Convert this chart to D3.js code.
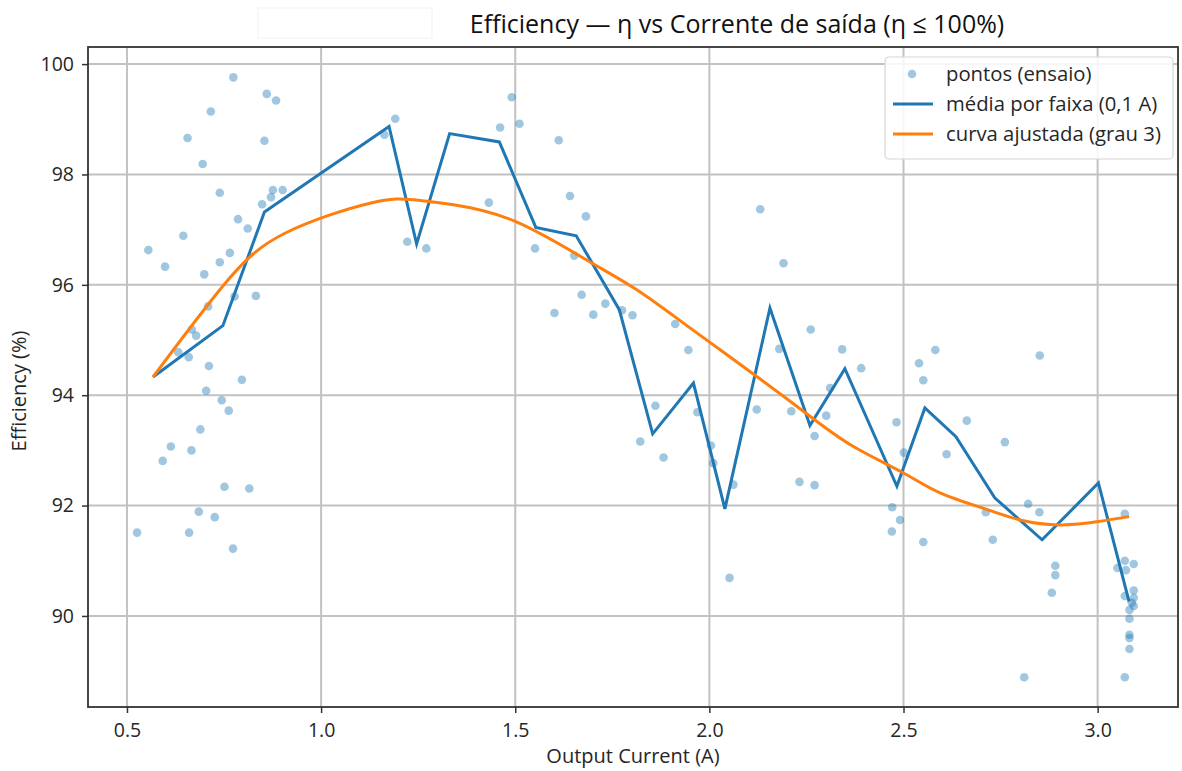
<!DOCTYPE html>
<html>
<head>
<meta charset="utf-8">
<script src="https://cdn.jsdelivr.net/npm/d3@7"></script>
<style>
  html, body { margin: 0; padding: 0; background: #ffffff; }
  svg { display: block; font-family: "Open Sans", "Noto Sans", sans-serif; }
</style>
</head>
<body>
<svg id="chart" width="1182" height="771"></svg>
<script>
// Test points: output current (A) and measured efficiency (%)
const pointCurrent = [
  0.774, 0.860, 0.884, 0.716, 0.656, 0.854, 0.695, 0.739, 0.876, 0.901,
  0.871, 0.848, 0.786, 0.811, 0.645, 0.555, 0.765, 0.739, 0.598, 0.699,
  0.832, 0.777, 0.709, 0.667, 0.678, 0.632, 0.659, 0.711, 0.796, 0.704,
  0.744, 0.762, 0.689, 0.613, 0.666, 0.592, 0.751, 0.815, 0.685, 0.726,
  0.526, 0.660, 0.773,
  1.163, 1.191, 1.491, 1.511, 1.461, 1.612, 1.641, 1.432, 1.682, 1.222,
  1.271, 1.551, 1.652, 1.671, 1.732, 1.701, 1.601, 1.775, 1.802, 1.912,
  1.946, 1.861, 1.822, 1.882,
  2.131, 2.191, 2.261, 2.180, 2.342, 2.391, 2.540, 2.551, 2.582, 1.969,
  2.122, 2.211, 2.311, 2.301, 2.271, 2.482, 2.501, 2.004, 2.010, 2.062,
  2.232, 2.271, 2.471, 2.491, 2.470, 2.551, 2.052,
  2.851, 2.663, 2.611, 2.761, 2.712, 2.821, 2.850, 2.730, 2.891, 2.891,
  2.882, 2.811, 3.070, 3.070, 3.093, 3.051, 3.073, 3.093, 3.070, 3.093,
  3.088, 3.093, 3.082, 3.082, 3.082, 3.082, 3.082, 3.070
];
const pointEfficiency = [
  99.76, 99.46, 99.34, 99.14, 98.66, 98.61, 98.19, 97.67, 97.72, 97.72,
  97.59, 97.46, 97.19, 97.02, 96.89, 96.63, 96.58, 96.41, 96.33, 96.19,
  95.80, 95.79, 95.61, 95.19, 95.08, 94.78, 94.69, 94.53, 94.28, 94.08,
  93.91, 93.72, 93.38, 93.07, 93.00, 92.81, 92.34, 92.31, 91.89, 91.79,
  91.51, 91.51, 91.22,
  98.72, 99.01, 99.40, 98.92, 98.85, 98.62, 97.61, 97.49, 97.24, 96.78,
  96.66, 96.66, 96.53, 95.82, 95.66, 95.46, 95.49, 95.54, 95.45, 95.29,
  94.82, 93.81, 93.16, 92.87,
  97.37, 96.39, 95.19, 94.84, 94.83, 94.49, 94.58, 94.27, 94.82, 93.69,
  93.74, 93.71, 94.13, 93.63, 93.26, 93.51, 92.96, 93.09, 92.77, 92.38,
  92.43, 92.37, 91.97, 91.74, 91.53, 91.34, 90.69,
  94.72, 93.54, 92.93, 93.15, 91.88, 92.03, 91.88, 91.38, 90.91, 90.74,
  90.42, 88.89, 91.85, 91.00, 90.94, 90.87, 90.83, 90.46, 90.36, 90.33,
  90.24, 90.18, 90.11, 89.95, 89.66, 89.60, 89.40, 88.89
];

// Mean efficiency per 0.1 A band
const binCurrent = [
  0.567, 0.747, 0.854, 1.175, 1.246, 1.331, 1.459, 1.553, 1.657, 1.768,
  1.854, 1.959, 2.040, 2.156, 2.259, 2.349, 2.483, 2.555, 2.635, 2.735,
  2.857, 3.002, 3.081
];
const binEfficiency = [
  94.33, 95.26, 97.32, 98.87, 96.74, 98.74, 98.59, 97.04, 96.89, 95.55,
  93.30, 94.22, 91.94, 95.58, 93.45, 94.48, 92.35, 93.77, 93.25, 92.14,
  91.38, 92.41, 90.26
];

// Fitted degree-3 curve, sampled along the current range
const fitCurrent = [
  0.567, 0.753, 0.908, 1.126, 1.238, 1.341, 1.500, 1.684, 1.813, 1.950,
  2.122, 2.259, 2.371, 2.500, 2.594, 2.714, 2.800, 2.903, 3.002, 3.081
];
const fitEfficiency = [
  94.33, 96.03, 96.94, 97.48, 97.54, 97.45, 97.15, 96.45, 95.91, 95.22,
  94.34, 93.62, 93.07, 92.59, 92.23, 91.93, 91.74, 91.65, 91.71, 91.80
];

const xTicks = [0.5, 1.0, 1.5, 2.0, 2.5, 3.0];
const yTicks = [90, 92, 94, 96, 98, 100];

const titleText = "Efficiency \u2014 \u03b7 vs Corrente de sa\u00edda (\u03b7 \u2264 100%)";
const xLabel = "Output Current (A)";
const yLabel = "Efficiency (%)";
const legendLabels = ["pontos (ensaio)", "m\u00e9dia por faixa (0,1 A)", "curva ajustada (grau 3)"];

const blue = "#1f77b4";
const orange = "#ff7f0e";
const textColor = "#262626";

const svg = d3.select("#chart");
const plotLeft = 88, plotRight = 1178, plotTop = 47, plotBottom = 707;

const x = d3.scaleLinear().domain([0.3996, 3.207]).range([plotLeft, plotRight]);
const y = d3.scaleLinear().domain([88.35, 100.31]).range([plotBottom, plotTop]);

// faint box left of the title
svg.append("rect")
  .attr("x", 258).attr("y", 8).attr("width", 174).attr("height", 30)
  .attr("fill", "#ffffff").attr("stroke", "#f1f1f1").attr("stroke-width", 1);

// title
svg.append("text")
  .attr("x", 737).attr("y", 33)
  .attr("text-anchor", "middle")
  .attr("font-size", 25)
  .attr("fill", "#111")
  .text(titleText);

// grid
const grid = svg.append("g");
grid.selectAll("line.gx").data(xTicks).enter().append("line")
  .attr("x1", d => x(d)).attr("x2", d => x(d))
  .attr("y1", plotTop).attr("y2", plotBottom)
  .attr("stroke", "#c2c2c2").attr("stroke-width", 2);
grid.selectAll("line.gy").data(yTicks).enter().append("line")
  .attr("x1", plotLeft).attr("x2", plotRight)
  .attr("y1", d => y(d)).attr("y2", d => y(d))
  .attr("stroke", "#c2c2c2").attr("stroke-width", 2);

// scatter points
const pts = pointCurrent.map((c, i) => ({ c, e: pointEfficiency[i] }));
svg.append("g").selectAll("circle").data(pts).enter().append("circle")
  .attr("cx", d => x(d.c)).attr("cy", d => y(d.e))
  .attr("r", 4.3)
  .attr("fill", blue).attr("fill-opacity", 0.42);

// band mean line
const bins = binCurrent.map((c, i) => ({ c, e: binEfficiency[i] }));
svg.append("path").datum(bins)
  .attr("d", d3.line().x(d => x(d.c)).y(d => y(d.e)))
  .attr("fill", "none").attr("stroke", blue).attr("stroke-width", 3)
  .attr("stroke-linejoin", "miter");

// fitted curve
const fit = fitCurrent.map((c, i) => ({ c, e: fitEfficiency[i] }));
svg.append("path").datum(fit)
  .attr("d", d3.line().x(d => x(d.c)).y(d => y(d.e)).curve(d3.curveNatural))
  .attr("fill", "none").attr("stroke", orange).attr("stroke-width", 3);

// axes
const xAxis = svg.append("g").attr("transform", `translate(0,${plotBottom})`)
  .call(d3.axisBottom(x).tickValues(xTicks).tickFormat(d3.format(".1f")).tickSize(6).tickPadding(10));
const yAxis = svg.append("g").attr("transform", `translate(${plotLeft},0)`)
  .call(d3.axisLeft(y).tickValues(yTicks).tickFormat(d3.format("d")).tickSize(6).tickPadding(8));
[xAxis, yAxis].forEach(a => {
  a.select(".domain").remove();
  a.selectAll(".tick line").attr("stroke", "#333").attr("stroke-width", 1.5);
  a.selectAll(".tick text").attr("font-size", 19.5).attr("fill", textColor)
    .attr("font-family", "Open Sans, Noto Sans, sans-serif");
});

// frame
svg.append("rect")
  .attr("x", plotLeft).attr("y", plotTop)
  .attr("width", plotRight - plotLeft).attr("height", plotBottom - plotTop)
  .attr("fill", "none").attr("stroke", "#333").attr("stroke-width", 1.8);

// axis labels
svg.append("text")
  .attr("x", (plotLeft + plotRight) / 2).attr("y", 763)
  .attr("text-anchor", "middle").attr("font-size", 20).attr("fill", textColor)
  .text(xLabel);
svg.append("text")
  .attr("transform", `translate(26,391) rotate(-90)`)
  .attr("text-anchor", "middle").attr("font-size", 20).attr("fill", textColor)
  .text(yLabel);

// legend
const lg = svg.append("g").attr("transform", "translate(885,57)");
lg.append("rect")
  .attr("x", 0).attr("y", 0).attr("width", 288).attr("height", 102).attr("rx", 4)
  .attr("fill", "#ffffff").attr("fill-opacity", 0.85)
  .attr("stroke", "#d6d6d6").attr("stroke-width", 1.2);
const rows = [17, 47, 77];
lg.append("circle").attr("cx", 27).attr("cy", rows[0]).attr("r", 4.3)
  .attr("fill", blue).attr("fill-opacity", 0.42);
lg.append("line").attr("x1", 8).attr("x2", 48).attr("y1", rows[1]).attr("y2", rows[1])
  .attr("stroke", blue).attr("stroke-width", 3);
lg.append("line").attr("x1", 8).attr("x2", 48).attr("y1", rows[2]).attr("y2", rows[2])
  .attr("stroke", orange).attr("stroke-width", 3);
lg.selectAll("text.lab").data(legendLabels).enter().append("text")
  .attr("x", 61).attr("y", (d, i) => rows[i] + 7)
  .attr("font-size", 20.3).attr("fill", textColor)
  .text(d => d);
</script>
</body>
</html>
